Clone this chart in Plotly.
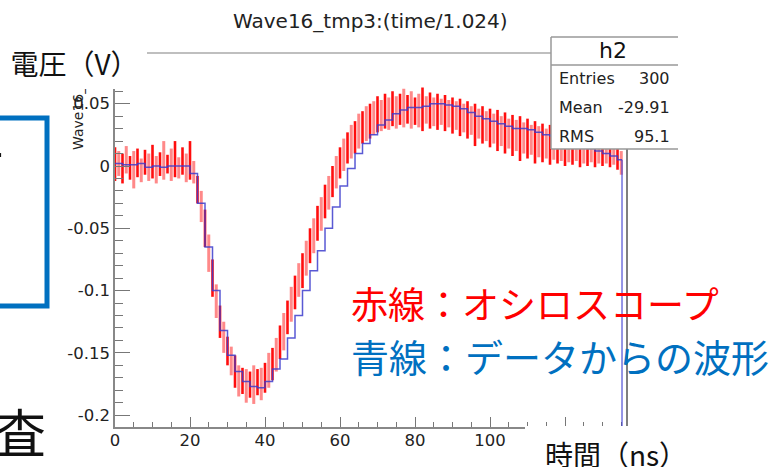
import plotly.graph_objects as go

# ---------------- data ----------------
time_ns = list(range(0, 136))
red_lo = [-0.012, -0.008, -0.014, -0.006, -0.011, -0.018, -0.009, -0.013, -0.007, -0.012,
          -0.010, -0.014, -0.008, -0.011, -0.006, -0.012, -0.009, -0.010, -0.007, -0.013,
          -0.011, -0.014, -0.030, -0.045, -0.065, -0.085, -0.105, -0.122, -0.138, -0.150,
          -0.160, -0.168, -0.178, -0.185, -0.183, -0.190, -0.186, -0.191, -0.184, -0.188,
          -0.182, -0.178, -0.172, -0.165, -0.155, -0.148, -0.135, -0.125, -0.115, -0.105,
          -0.098, -0.088, -0.078, -0.070, -0.060, -0.052, -0.042, -0.035, -0.025, -0.018,
          -0.010, -0.004, 0.002, 0.006, 0.010, 0.014, 0.018, 0.020, 0.022, 0.025,
          0.027, 0.028, 0.030, 0.029, 0.032, 0.030, 0.033, 0.031, 0.034, 0.030,
          0.033, 0.031, 0.028, 0.034, 0.030, 0.032, 0.029, 0.033, 0.028, 0.031,
          0.026, 0.029, 0.024, 0.027, 0.022, 0.025, 0.016, 0.022, 0.018, 0.020,
          0.015, 0.018, 0.012, 0.016, 0.010, 0.014, 0.008, 0.012, 0.004, 0.010,
          0.006, 0.009, 0.002, 0.007, 0.003, 0.006, 0.001, 0.005, 0.002, 0.004,
          0.000, 0.003, 0.001, 0.004, -0.001, 0.002, 0.000, 0.003, -0.001, 0.002,
          0.000, 0.002, -0.001, 0.001, -0.003, -0.007]
red_hi = [0.015, 0.012, 0.010, 0.016, 0.008, 0.012, 0.014, 0.006, 0.013, 0.010,
          0.017, 0.008, 0.011, 0.020, 0.009, 0.014, 0.020, 0.007, 0.015, 0.010,
          0.020, 0.004, -0.008, -0.020, -0.035, -0.055, -0.075, -0.095, -0.112, -0.125,
          -0.137, -0.145, -0.152, -0.160, -0.162, -0.163, -0.165, -0.160, -0.163, -0.162,
          -0.158, -0.150, -0.146, -0.138, -0.128, -0.118, -0.108, -0.097, -0.088, -0.078,
          -0.070, -0.060, -0.050, -0.042, -0.032, -0.025, -0.015, -0.008, 0.000, 0.008,
          0.015, 0.022, 0.027, 0.033, 0.036, 0.042, 0.044, 0.048, 0.050, 0.052,
          0.056, 0.053, 0.058, 0.055, 0.060, 0.056, 0.058, 0.062, 0.057, 0.060,
          0.055, 0.058, 0.063, 0.056, 0.059, 0.055, 0.058, 0.054, 0.057, 0.053,
          0.055, 0.052, 0.054, 0.050, 0.052, 0.048, 0.050, 0.046, 0.048, 0.044,
          0.046, 0.042, 0.045, 0.040, 0.043, 0.038, 0.041, 0.037, 0.040, 0.035,
          0.038, 0.033, 0.036, 0.032, 0.034, 0.030, 0.033, 0.029, 0.031, 0.027,
          0.030, 0.026, 0.028, 0.025, 0.027, 0.024, 0.026, 0.022, 0.025, 0.021,
          0.023, 0.020, 0.022, 0.019, 0.018, 0.012]

blue_t = list(range(0, 136, 2))
blue_v = [0.002, 0.001, 0.001, 0.002, -0.001, 0.000, -0.001, 0.000, 0.000, 0.000,
          -0.006, -0.030, -0.065, -0.100, -0.132, -0.152, -0.165, -0.173, -0.177, -0.178,
          -0.173, -0.163, -0.155, -0.138, -0.120, -0.100, -0.084, -0.068, -0.050, -0.033,
          -0.016, -0.002, 0.010, 0.018, 0.025, 0.033, 0.037, 0.042, 0.045, 0.047,
          0.047, 0.048, 0.050, 0.050, 0.049, 0.048, 0.046, 0.043, 0.040, 0.038,
          0.036, 0.034, 0.032, 0.030, 0.030, 0.029, 0.027, 0.025, 0.024, 0.022,
          0.020, 0.018, 0.016, 0.014, 0.012, 0.010, 0.008, 0.005]
BLUE_END = 135.2

x_tickvals = [0, 20, 40, 60, 80, 100, 120]
x_ticktext = ["0", "20", "40", "60", "80", "100", ""]
y_tickvals = [-0.2, -0.15, -0.1, -0.05, 0, 0.05]
y_ticktext = ["-0.2", "-0.15", "-0.1", "-0.05", "0", "0.05"]

title_text = "Wave16_tmp3:(time/1.024)"
ytitle_text = "Wave16_tmp3"
stats_name = "h2"
stats_labels = ["Entries", "Mean", "RMS"]
stats_values = ["300", "-29.91", "95.1"]
red_label = "赤線：オシロスコープ"
blue_label = "青線：データからの波形"
ylabel_jp = "電圧（V）"
xlabel_jp = "時間（ns）"

# ---------------- layout geometry ----------------
W, H = 778, 467
PL, PR, PT, PB = 115, 627, 53, 427
X_MAX = 136.53
Y_MIN, Y_MAX = -0.2095, 0.0907


def fx(px):
    return (px - PL) / (PR - PL)


def fy(py):
    return (PB - py) / (PB - PT)


ROOT_FONT = "DejaVu Sans"
JP_FONT = "Noto Sans CJK JP"


def segments(idx):
    sx, sy = [], []
    for i in idx:
        sx += [time_ns[i], time_ns[i], None]
        sy += [red_lo[i], red_hi[i], None]
    return sx, sy


even_x, even_y = segments(range(0, len(time_ns), 2))
odd_x, odd_y = segments(range(1, len(time_ns), 2))

fig = go.Figure()
fig.add_trace(go.Scatter(x=odd_x, y=odd_y, mode="lines",
                         line=dict(color="rgba(255,40,40,0.55)", width=3),
                         hoverinfo="skip"))
fig.add_trace(go.Scatter(x=even_x, y=even_y, mode="lines",
                         line=dict(color="rgba(255,0,0,0.95)", width=2.6),
                         hoverinfo="skip"))
fig.add_trace(go.Scatter(x=blue_t + [BLUE_END], y=blue_v + [blue_v[-1]], mode="lines",
                         line=dict(color="rgba(60,60,205,0.85)", width=1.5, shape="hv"),
                         hoverinfo="skip"))

shapes = []
shapes.append(dict(type="line", xref="x", yref="y", x0=BLUE_END, x1=BLUE_END,
                   y0=blue_v[-1], y1=Y_MIN, line=dict(color="rgba(60,60,210,0.9)", width=1.2),
                   layer="above"))
shapes.append(dict(type="line", xref="paper", yref="paper", x0=0, x1=1, y0=1, y1=1,
                   line=dict(color="#aaaaaa", width=1.5), layer="above"))
shapes.append(dict(type="line", xref="paper", yref="paper", x0=1, x1=1, y0=0, y1=1,
                   line=dict(color="#555555", width=1.5), layer="above"))
shapes.append(dict(type="rect", xref="paper", yref="paper", x0=fx(551), x1=fx(780),
                   y0=fy(149), y1=fy(37), fillcolor="white", line=dict(width=0), layer="above"))
for (a, b, c, d) in [(551, 37, 678, 37), (551, 37, 551, 149), (551, 149, 678, 149), (551, 65, 678, 65)]:
    shapes.append(dict(type="line", xref="paper", yref="paper", x0=fx(a), x1=fx(c),
                       y0=fy(b), y1=fy(d), line=dict(color="#999999", width=1.5), layer="above"))
shapes.append(dict(type="rect", xref="paper", yref="paper", x0=fx(-30), x1=fx(47),
                   y0=fy(306), y1=fy(118), line=dict(color="#0070C0", width=5), layer="above"))

ann = []
ann.append(dict(text=title_text, xref="paper", yref="paper", x=fx(370), y=fy(21),
                xanchor="center", yanchor="middle", showarrow=False,
                font=dict(family=ROOT_FONT, size=20, color="#222")))
ann.append(dict(text=ytitle_text, xref="paper", yref="paper", x=fx(78), y=fy(152),
                xanchor="center", yanchor="bottom", textangle=-90, showarrow=False,
                font=dict(family=ROOT_FONT, size=14, color="#222")))
ann.append(dict(text=ylabel_jp, xref="paper", yref="paper", x=fx(2), y=fy(36),
                xanchor="left", yanchor="top", width=145, height=53, bgcolor="white",
                borderpad=0, borderwidth=0, align="center", valign="middle", showarrow=False,
                font=dict(family=JP_FONT, size=28, color="#111")))
ann.append(dict(text=xlabel_jp, xref="paper", yref="paper", x=fx(525), y=fy(425.5),
                xanchor="left", yanchor="top", width=182, height=55, bgcolor="white",
                borderpad=0, borderwidth=0, align="center", valign="middle", showarrow=False,
                font=dict(family=JP_FONT, size=28, color="#111")))
ann.append(dict(text=stats_name, xref="paper", yref="paper", x=fx(613), y=fy(51),
                xanchor="center", yanchor="middle", showarrow=False,
                font=dict(family=ROOT_FONT, size=22, color="#111")))
for i, (lab, val) in enumerate(zip(stats_labels, stats_values)):
    yy = [79, 107.5, 136][i]
    ann.append(dict(text=lab, xref="paper", yref="paper", x=fx(557), y=fy(yy),
                    xanchor="left", yanchor="middle", showarrow=False,
                    font=dict(family=ROOT_FONT, size=16, color="#222")))
    ann.append(dict(text=val, xref="paper", yref="paper", x=fx(672), y=fy(yy),
                    xanchor="right", yanchor="middle", showarrow=False,
                    font=dict(family=ROOT_FONT, size=16, color="#222")))
ann.append(dict(text=red_label, xref="paper", yref="paper", x=fx(349), y=fy(303),
                xanchor="left", yanchor="middle", showarrow=False,
                font=dict(family=JP_FONT, size=37, color="#FF0000")))
ann.append(dict(text=blue_label, xref="paper", yref="paper", x=fx(349), y=fy(355),
                xanchor="left", yanchor="middle", showarrow=False,
                font=dict(family=JP_FONT, size=38, color="#0070C0")))
ann.append(dict(text="て", xref="paper", yref="paper", x=fx(9), y=fy(168),
                xanchor="right", yanchor="middle", showarrow=False,
                font=dict(family=JP_FONT, size=50, color="#111")))
ann.append(dict(text="査", xref="paper", yref="paper", x=fx(20), y=fy(430),
                xanchor="center", yanchor="middle", showarrow=False,
                font=dict(family=JP_FONT, size=52, color="#111")))

fig.update_layout(
    width=W, height=H, autosize=False,
    margin=dict(l=PL, r=W - PR, t=PT, b=H - PB, pad=0),
    paper_bgcolor="white", plot_bgcolor="white",
    showlegend=False,
    shapes=shapes, annotations=ann,
    xaxis=dict(range=[0, X_MAX], tickvals=x_tickvals, ticktext=x_ticktext,
               ticks="inside", ticklen=10, tickwidth=1.2, tickcolor="#777",
               ticklabelstandoff=-3,
               minor=dict(dtick=5, tick0=0, ticks="inside", ticklen=5, tickcolor="#777", tickwidth=1.2),
               showline=True, linecolor="#888", linewidth=1.5, showgrid=False, zeroline=False,
               tickfont=dict(family=ROOT_FONT, size=16.5, color="#222")),
    yaxis=dict(range=[Y_MIN, Y_MAX], tickvals=y_tickvals, ticktext=y_ticktext,
               ticks="inside", ticklen=15, tickwidth=1.2, tickcolor="#777",
               minor=dict(dtick=0.01, tick0=0, ticks="inside", ticklen=8, tickcolor="#777", tickwidth=1.2),
               showline=True, linecolor="#888", linewidth=1.5, showgrid=False, zeroline=False,
               tickfont=dict(family=ROOT_FONT, size=16.5, color="#222")),
)

fig.write_html("out.html")
